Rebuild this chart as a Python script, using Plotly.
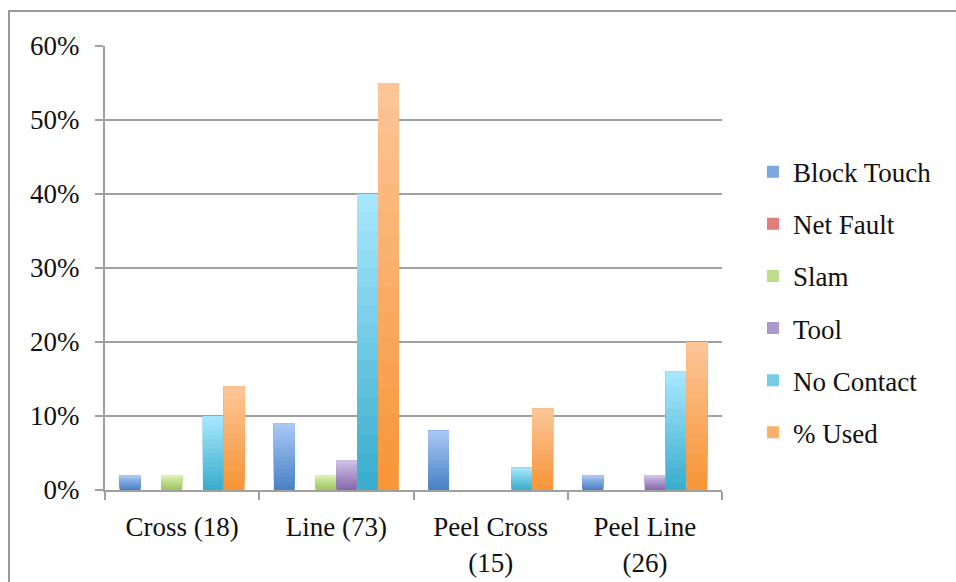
import plotly.graph_objects as go

# Data
categories = ["Cross (18)", "Line (73)", "Peel Cross<br>(15)", "Peel Line<br>(26)"]
series_names = ["Block Touch", "Net Fault", "Slam", "Tool", "No Contact", "% Used"]
block_touch = [2, 9, 8, 2]
net_fault = [0, 0, 0, 0]
slam = [2, 2, 0, 0]
tool = [0, 4, 0, 2]
no_contact = [10, 40, 3, 16]
pct_used = [14, 55, 11, 20]
series_values = [block_touch, net_fault, slam, tool, no_contact, pct_used]
y_ticks = [0, 10, 20, 30, 40, 50, 60]

# (top colour, bottom colour) of each series' vertical gradient
gradients = [
    ((172, 201, 246), (70, 128, 196)),
    ((247, 172, 170), (198, 74, 70)),
    ((221, 241, 178), (158, 196, 94)),
    ((208, 194, 232), (134, 104, 170)),
    ((170, 232, 254), (56, 172, 203)),
    ((253, 198, 152), (246, 148, 54)),
]

FONT = "Liberation Serif"
FONT_SIZE = 27
N_LAYERS = 16


def mix(top, bottom, t):
    r, g, b = (round(bottom[k] + (top[k] - bottom[k]) * t) for k in range(3))
    return f"rgb({r},{g},{b})"


fig = go.Figure()
for s, (name, vals) in enumerate(zip(series_names, series_values)):
    top, bottom = gradients[s]
    for i in range(N_LAYERS):
        frac = i / N_LAYERS
        fig.add_trace(go.Bar(
            x=categories,
            y=[v * (1 - frac) for v in vals],
            base=[v * frac for v in vals],
            name=name,
            offsetgroup=str(s),
            legendgroup=name,
            showlegend=(i == N_LAYERS // 2),
            marker=dict(color=mix(top, bottom, (i + 0.5) / N_LAYERS), line=dict(width=0)),
            hoverinfo="skip" if i else "x+name",
        ))

fig.update_layout(
    width=956,
    height=582,
    margin=dict(l=105, r=234, t=46, b=92),
    paper_bgcolor="white",
    plot_bgcolor="white",
    barmode="group",
    bargap=0.19,
    bargroupgap=0,
    font=dict(family=FONT, size=FONT_SIZE, color="#111111"),
    legend=dict(
        x=1.0502, xanchor="left",
        y=0.423, yanchor="middle",
        tracegroupgap=14,
        font=dict(family=FONT, size=FONT_SIZE, color="#111111"),
        bgcolor="rgba(0,0,0,0)",
    ),
    showlegend=True,
    shapes=[dict(
        type="rect", xref="paper", yref="paper",
        x0=-0.1556, x1=1.6, y0=-0.4, y1=1.0788,
        line=dict(color="#9a9a9a", width=2), fillcolor="rgba(0,0,0,0)", layer="below",
    )],
)

fig.update_yaxes(
    range=[0, 60],
    tickvals=y_ticks,
    ticktext=[f"{v}%" for v in y_ticks],
    showgrid=True, gridcolor="#a0a0a0", gridwidth=2,
    showline=True, linecolor="#a0a0a0", linewidth=2,
    ticks="outside", ticklen=8, tickcolor="#a0a0a0", tickwidth=2,
    ticklabelstandoff=10,
    zeroline=False,
    automargin=False,
)
fig.update_xaxes(
    showline=True, linecolor="#a0a0a0", linewidth=2,
    ticks="outside", ticklen=8, tickcolor="#a0a0a0", tickwidth=2,
    tickson="boundaries",
    ticklabelstandoff=12,
    showgrid=False,
    automargin=False,
)

fig.write_html("out.html")
